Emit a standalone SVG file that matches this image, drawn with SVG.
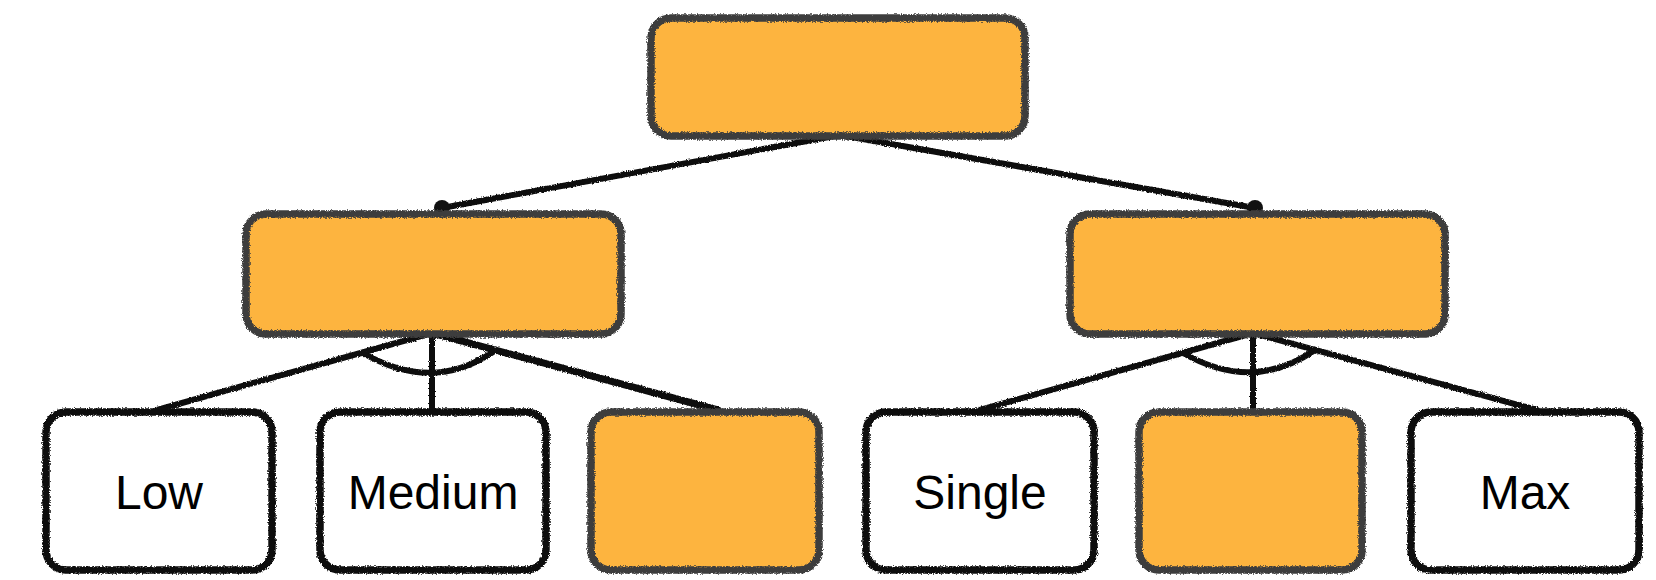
<svg xmlns="http://www.w3.org/2000/svg" width="1656" height="580" viewBox="0 0 1656 580">
<defs>
<filter id="rough" x="-5%" y="-5%" width="110%" height="110%">
<feTurbulence type="fractalNoise" baseFrequency="0.8" numOctaves="2" seed="3" result="n"/>
<feDisplacementMap in="SourceGraphic" in2="n" scale="4" xChannelSelector="R" yChannelSelector="G"/>
</filter>
<filter id="roughLine" filterUnits="userSpaceOnUse" x="0" y="0" width="1656" height="580">
<feTurbulence type="fractalNoise" baseFrequency="0.8" numOctaves="2" seed="5" result="n"/>
<feDisplacementMap in="SourceGraphic" in2="n" scale="3" xChannelSelector="R" yChannelSelector="G"/>
</filter>
<style>
.bg{fill:#ffffff}
.fillO{fill:#FDB43F}
.fillW{fill:#ffffff}
.edgeO{fill:none;stroke:#3d3d3d;stroke-width:7.5;filter:url(#rough)}
.edgeW{fill:none;stroke:#0a0a0a;stroke-width:7.5;filter:url(#rough)}
.conn{fill:none;stroke:#111111;stroke-width:6;stroke-linecap:round;filter:url(#roughLine)}
.dot{fill:#111111}
.lbl{font-family:"Liberation Sans",Arial,sans-serif;font-size:48px;fill:#000000;text-anchor:middle}
</style>
</defs>
<rect class="bg" x="0" y="0" width="1656" height="580"/>
<g id="connectors">
<path class="conn" d="M840,135 L442,208"/>
<path class="conn" d="M840,135 L1255,208"/>
<circle class="dot" cx="442" cy="208" r="8"/>
<circle class="dot" cx="1255" cy="208" r="8"/>
<path class="conn" d="M432,333 L157,410"/>
<path class="conn" d="M432,333 L432,410"/>
<path class="conn" d="M432,333 L718,410" style="stroke-width:7"/>
<path class="conn" d="M363,353 Q432,393 493,352"/>
<path class="conn" d="M1253,333 L980,410"/>
<path class="conn" d="M1253,333 L1253,410"/>
<path class="conn" d="M1253,333 L1537,410"/>
<path class="conn" d="M1183,353 Q1253,393 1315,350"/>
</g>
<g id="root">
<rect class="fillO" x="651" y="18" width="374" height="118" rx="20"/>
<rect class="edgeO" x="651" y="18" width="374" height="118" rx="20"/>
</g>
<g id="mid-left">
<rect class="fillO" x="246" y="214" width="375" height="120" rx="20"/>
<rect class="edgeO" x="246" y="214" width="375" height="120" rx="20"/>
</g>
<g id="mid-right">
<rect class="fillO" x="1070" y="214" width="375" height="120" rx="20"/>
<rect class="edgeO" x="1070" y="214" width="375" height="120" rx="20"/>
</g>
<g id="low">
<rect class="fillW" x="46" y="412" width="226" height="158" rx="20"/>
<rect class="edgeW" x="46" y="412" width="226" height="158" rx="20"/>
<text class="lbl" x="159" y="509">Low</text>
</g>
<g id="medium">
<rect class="fillW" x="320" y="412" width="226" height="158" rx="20"/>
<rect class="edgeW" x="320" y="412" width="226" height="158" rx="20"/>
<text class="lbl" x="433" y="509">Medium</text>
</g>
<g id="left-third">
<rect class="fillO" x="591" y="412" width="228" height="158" rx="20"/>
<rect class="edgeO" x="591" y="412" width="228" height="158" rx="20"/>
</g>
<g id="single">
<rect class="fillW" x="866" y="412" width="228" height="158" rx="20"/>
<rect class="edgeW" x="866" y="412" width="228" height="158" rx="20"/>
<text class="lbl" x="980" y="509">Single</text>
</g>
<g id="right-second">
<rect class="fillO" x="1139" y="412" width="223" height="158" rx="20"/>
<rect class="edgeO" x="1139" y="412" width="223" height="158" rx="20"/>
</g>
<g id="max">
<rect class="fillW" x="1411" y="412" width="228" height="158" rx="20"/>
<rect class="edgeW" x="1411" y="412" width="228" height="158" rx="20"/>
<text class="lbl" x="1525" y="509">Max</text>
</g>
</svg>
